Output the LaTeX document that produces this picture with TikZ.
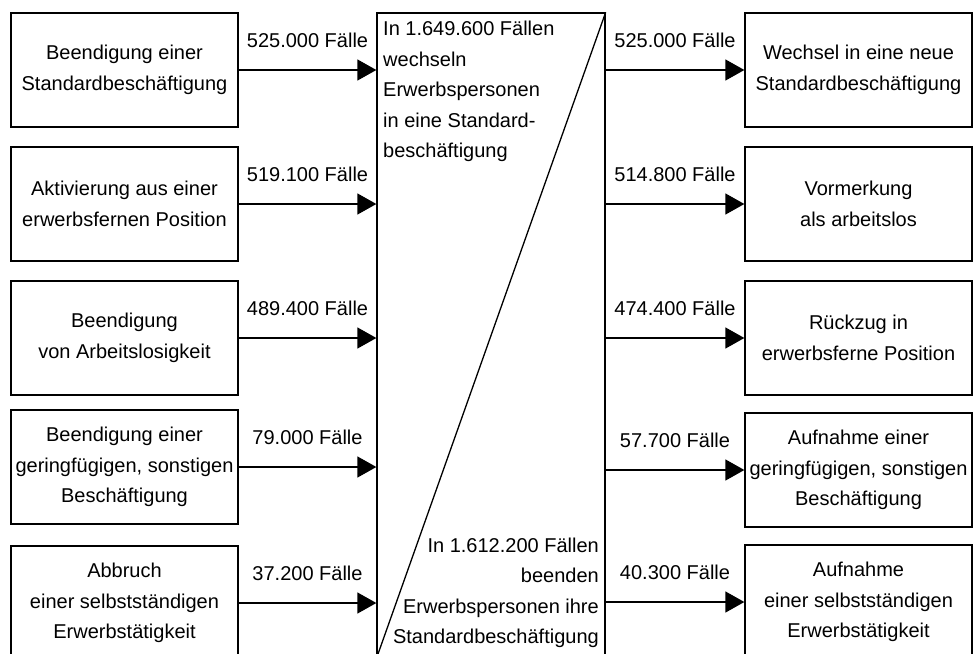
\documentclass[tikz,border=0pt]{standalone}
\usepackage{fontspec}
\setmainfont{Liberation Sans}
\usetikzlibrary{arrows.meta}
\begin{document}
\begin{tikzpicture}[x=1pt,y=-1pt,
  every node/.style={font=\fontsize{20pt}{30.5pt}\selectfont},
  box/.style={draw, line width=1.3pt, minimum width=227pt, minimum height=114pt, inner sep=0pt, align=center},
  arr/.style={line width=1.3pt, -{Triangle[length=19pt,width=21pt]}},
  lab/.style={above=22pt, inner sep=0pt}]
\useasboundingbox (0,0) rectangle (976,653);
\clip (0,0) rectangle (976,653);
% centre box
\node[draw, line width=1.3pt, minimum width=228pt, minimum height=645pt, inner sep=0pt] (c) at (491,335.5) {};
\draw[line width=1.3pt] (c.north east) -- (c.south west);
\node[anchor=north west, align=left, inner sep=0pt] (ct) at (383,21)
  {In 1.649.600 Fällen\\wechseln\\Erwerbspersonen\\in eine Standard-\\beschäftigung};
\node[anchor=south east, align=right, inner sep=0pt] (cb) at (599,648)
  {In 1.612.200 Fällen\\beenden\\Erwerbspersonen ihre\\Standardbeschäftigung};
% left boxes
\node[box] (l1) at (124.5,70) {Beendigung einer\\Standardbeschäftigung};
\node[box] (l2) at (124.5,204) {Aktivierung aus einer\\erwerbsfernen Position};
\node[box] (l3) at (124.5,338) {Beendigung\\von Arbeitslosigkeit};
\node[box] (l4) at (124.5,467) {Beendigung einer\\geringfügigen, sonstigen\\Beschäftigung};
\node[box] (l5) at (124.5,603) {Abbruch\\einer selbstständigen\\Erwerbstätigkeit};
% right boxes
\node[box] (r1) at (858.5,70) {Wechsel in eine neue\\Standardbeschäftigung};
\node[box] (r2) at (858.5,204) {Vormerkung\\als arbeitslos};
\node[box] (r3) at (858.5,338) {Rückzug in\\erwerbsferne Position};
\node[box] (r4) at (858.5,470) {Aufnahme einer\\geringfügigen, sonstigen\\Beschäftigung};
\node[box] (r5) at (858.5,602) {Aufnahme\\einer selbstständigen\\Erwerbstätigkeit};
% left arrows
\draw[arr] (l1.east) -- node[lab] {525.000 Fälle} (l1.east -| c.west);
\draw[arr] (l2.east) -- node[lab] {519.100 Fälle} (l2.east -| c.west);
\draw[arr] (l3.east) -- node[lab] {489.400 Fälle} (l3.east -| c.west);
\draw[arr] (l4.east) -- node[lab] {79.000 Fälle} (l4.east -| c.west);
\draw[arr] (l5.east) -- node[lab] {37.200 Fälle} (l5.east -| c.west);
% right arrows
\draw[arr] (r1.west -| c.east) -- node[lab] {525.000 Fälle} (r1.west);
\draw[arr] (r2.west -| c.east) -- node[lab] {514.800 Fälle} (r2.west);
\draw[arr] (r3.west -| c.east) -- node[lab] {474.400 Fälle} (r3.west);
\draw[arr] (r4.west -| c.east) -- node[lab] {57.700 Fälle} (r4.west);
\draw[arr] (r5.west -| c.east) -- node[lab] {40.300 Fälle} (r5.west);
\end{tikzpicture}
\end{document}
